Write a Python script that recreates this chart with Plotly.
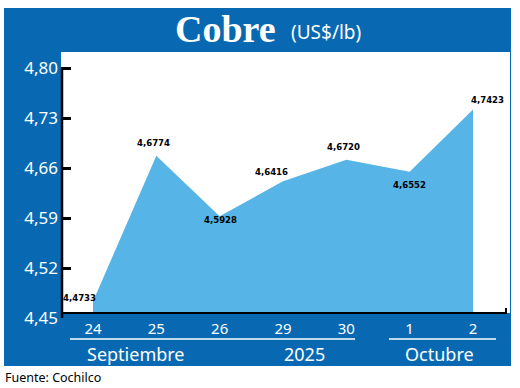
import plotly.graph_objects as go

# ---- data ----
days = ["24", "25", "26", "29", "30", "1", "2"]
prices = [4.4733, 4.6774, 4.5928, 4.6416, 4.6720, 4.6552, 4.7423]
price_labels = ["4,4733", "4,6774", "4,5928", "4,6416", "4,6720", "4,6552", "4,7423"]
y_ticks = [4.45, 4.52, 4.59, 4.66, 4.73, 4.80]
y_tick_labels = ["4,45", "4,52", "4,59", "4,66", "4,73", "4,80"]
groups = ["Septiembre", "2025", "Octubre"]

# ---- style ----
W, H = 520, 388
L, R, T, B = 61, 10, 52, 70          # plot area px: x 61..510, y 52..318
PW, PH = W - L - R, H - T - B
BLUE = "#0869B2"
LIGHT = "#56B5E6"
Y0, Y1 = 4.45, 4.8229
BASE = 4.457                         # x-axis line level (fill base)

def px(x):
    return (x - L) / PW

def py(y):
    return (H - B - y) / PH

label_shift = [(-13, 4), (-3, 13), (1, -3), (-12, 10), (-3, 13), (0, -13), (14, 10)]

fig = go.Figure()
fig.add_trace(go.Scatter(x=days, y=[BASE] * len(days), mode="lines",
                         line=dict(width=0), hoverinfo="skip", showlegend=False))
fig.add_trace(go.Scatter(x=days, y=prices, mode="lines", fill="tonexty",
                         fillcolor=LIGHT, line=dict(width=0, color=LIGHT),
                         showlegend=False))

shapes = [
    # blue frame
    dict(type="rect", xref="paper", yref="paper", x0=px(4), x1=px(511), y0=py(366), y1=py(8),
         fillcolor=BLUE, line=dict(width=0), layer="below"),
    # white plot panel
    dict(type="rect", xref="paper", yref="paper", x0=px(61), x1=px(510), y0=py(313), y1=py(52),
         fillcolor="white", line=dict(width=0), layer="below"),
    # y axis line
    dict(type="line", xref="paper", yref="y", x0=px(62), x1=px(62), y0=Y0 - 0.002, y1=4.80,
         line=dict(color="black", width=2.5)),
    # x axis line
    dict(type="line", xref="paper", yref="y", x0=px(61), x1=px(507), y0=BASE, y1=BASE,
         line=dict(color="black", width=2)),
    dict(type="line", xref="paper", yref="paper", x0=px(506), x1=px(506), y0=py(314), y1=py(308),
         line=dict(color="black", width=2)),
    # group underlines
    dict(type="line", xref="paper", yref="paper", x0=px(70), x1=px(355), y0=py(339), y1=py(339),
         line=dict(color="white", width=1.5)),
    dict(type="line", xref="paper", yref="paper", x0=px(389), x1=px(496), y0=py(339), y1=py(339),
         line=dict(color="white", width=1.5)),
]

annotations = []
for i, (v, t, (dx, dy)) in enumerate(zip(prices, price_labels, label_shift)):
    annotations.append(dict(x=i, y=v, xref="x", yref="y", text=t, showarrow=False,
                            xanchor="center", yanchor="middle", xshift=dx, yshift=dy,
                            font=dict(family="DejaVu Sans Condensed", size=9.5,
                                      color="black", weight="bold")))

for g, cx in zip(groups, [136, 304, 439]):
    annotations.append(dict(x=px(cx), y=py(354), xref="paper", yref="paper", text=g,
                            showarrow=False, xanchor="center", yanchor="middle",
                            font=dict(family="Noto Sans", size=18, color="white")))

annotations += [
    dict(x=px(278), y=py(29), xref="paper", yref="paper", text="<b>Cobre</b>", showarrow=False,
         xanchor="right", yanchor="middle",
         font=dict(family="Liberation Serif", size=38, color="white")),
    dict(x=px(289), y=py(32), xref="paper", yref="paper", text="(US$/lb)", showarrow=False,
         xanchor="left", yanchor="middle",
         font=dict(family="Noto Sans", size=19, color="white")),
    dict(x=px(3), y=py(378), xref="paper", yref="paper", text="Fuente: Cochilco", showarrow=False,
         xanchor="left", yanchor="middle",
         font=dict(family="Noto Sans", size=12.5, color="black")),
]

fig.update_layout(
    width=W, height=H,
    margin=dict(l=L, r=R, t=T, b=B, pad=0),
    paper_bgcolor="white", plot_bgcolor="rgba(0,0,0,0)",
    shapes=shapes, annotations=annotations,
    xaxis=dict(type="category", range=[-0.505, 6.584], showgrid=False, zeroline=False,
               showline=False, ticks="", tickfont=dict(family="Noto Sans", size=15, color="white")),
    yaxis=dict(range=[Y0, Y1], tickvals=y_ticks, ticktext=y_tick_labels, showgrid=False,
               zeroline=False, showline=False, ticks="inside", ticklen=10, tickwidth=2.5,
               tickcolor="black", ticklabelstandoff=2,
               tickfont=dict(family="Noto Sans", size=17, color="white")),
    showlegend=False,
)

fig.write_html("out.html", config={"displayModeBar": False},
               post_script="document.body.style.margin='0';document.body.style.overflow='hidden';")
